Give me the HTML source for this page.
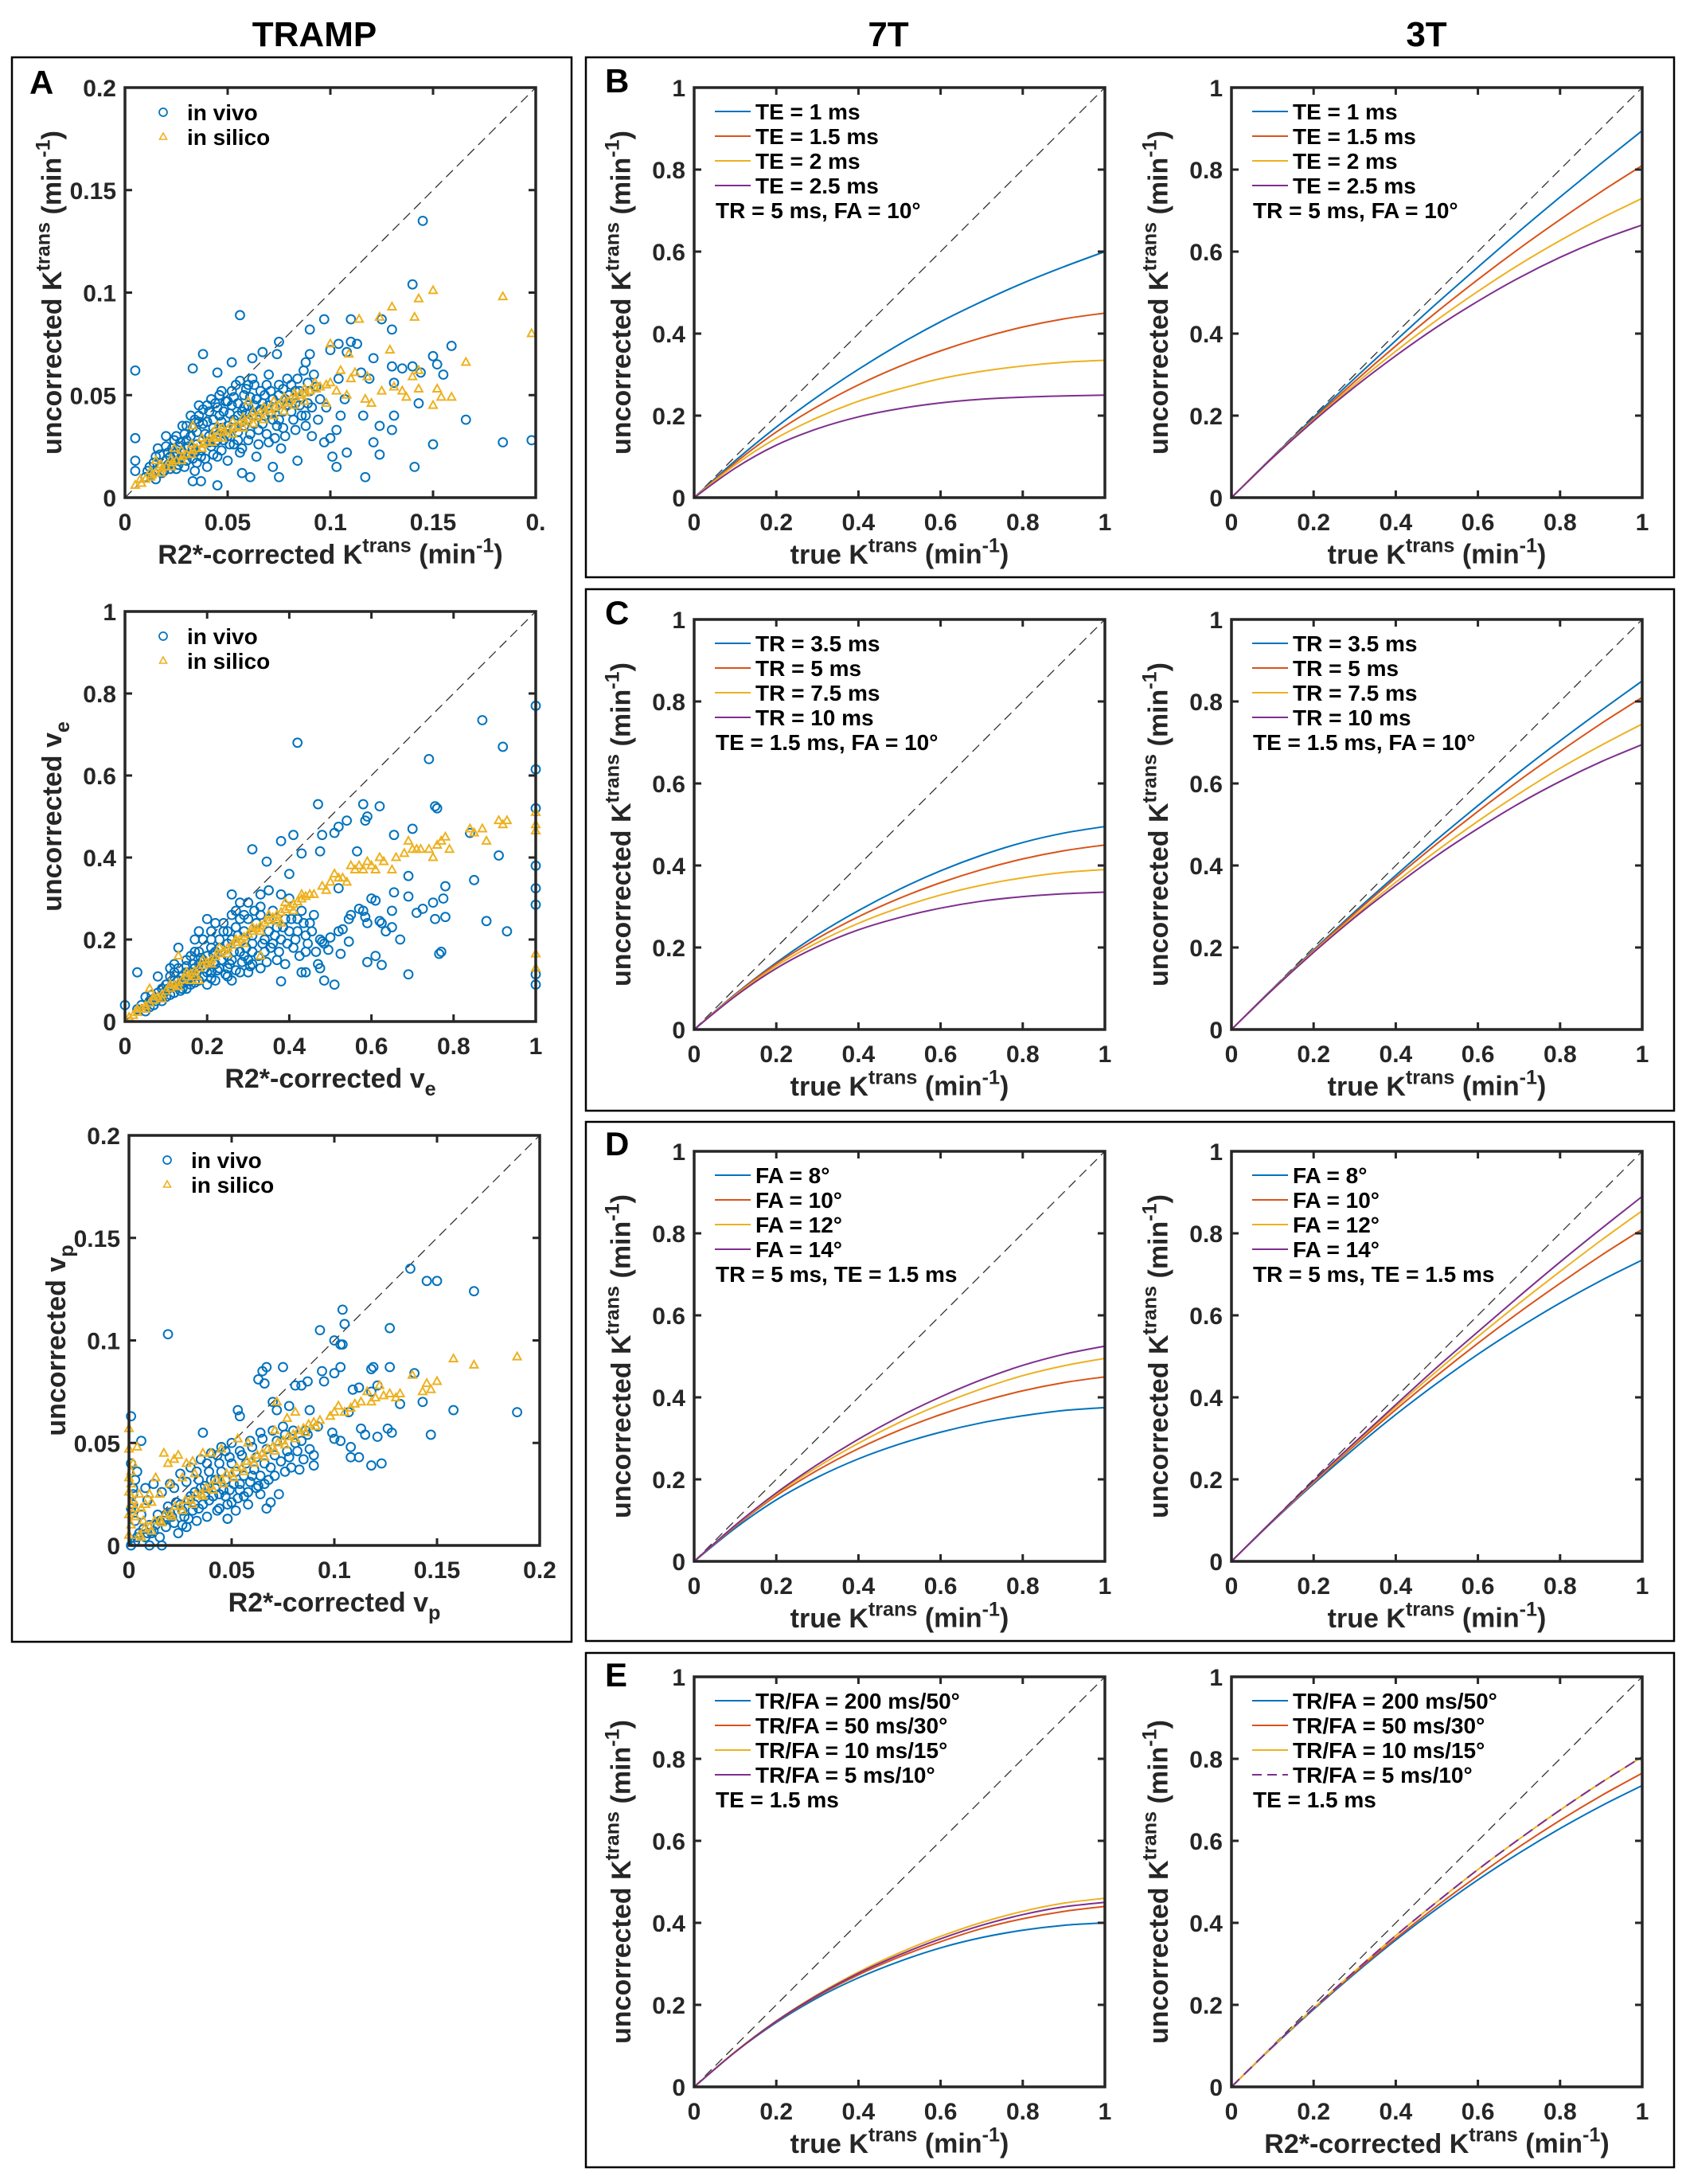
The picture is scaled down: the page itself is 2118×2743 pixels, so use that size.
<!DOCTYPE html>
<html><head><meta charset="utf-8">
<style>
html,body{margin:0;padding:0;background:#fff;}
svg text{font-family:"Liberation Sans",Arial,sans-serif;font-weight:bold;}
</style></head>
<body>
<svg id="fig" xmlns="http://www.w3.org/2000/svg" width="2118" height="2738" viewBox="0 0 2118 2738">
<rect x="0" y="0" width="2118" height="2738" fill="#fff"/>
<text x="395" y="58" font-size="44" text-anchor="middle" fill="#000">TRAMP</text>
<text x="1116" y="58" font-size="44" text-anchor="middle" fill="#000">7T</text>
<text x="1792" y="58" font-size="44" text-anchor="middle" fill="#000">3T</text>
<rect x="15" y="72" width="703" height="1990" fill="none" stroke="#000" stroke-width="2.5"/>
<rect x="736" y="72" width="1367" height="653" fill="none" stroke="#000" stroke-width="2.5"/>
<rect x="736" y="740" width="1367" height="655" fill="none" stroke="#000" stroke-width="2.5"/>
<rect x="736" y="1409" width="1367" height="652" fill="none" stroke="#000" stroke-width="2.5"/>
<rect x="736" y="2076" width="1367" height="646" fill="none" stroke="#000" stroke-width="2.5"/>
<text x="37" y="118" font-size="42" fill="#000">A</text>
<text x="760" y="116" font-size="42" fill="#000">B</text>
<text x="760" y="784" font-size="42" fill="#000">C</text>
<text x="760" y="1451" font-size="42" fill="#000">D</text>
<text x="760" y="2118" font-size="42" fill="#000">E</text>
</svg>
<script>
// ---------- line chart data (x samples shared) ----------
const xs = [0,0.1,0.2,0.3,0.4,0.5,0.6,0.7,0.8,0.9,1.0];
const b7_te1   = [0,0.09,0.172,0.246,0.313,0.374,0.429,0.478,0.523,0.563,0.60];
const b7_te15  = [0,0.085,0.16,0.222,0.275,0.32,0.358,0.39,0.416,0.436,0.45];
const b7_te2   = [0,0.08,0.145,0.195,0.235,0.265,0.29,0.308,0.321,0.33,0.335];
const b7_te25  = [0,0.072,0.128,0.168,0.197,0.217,0.231,0.24,0.245,0.248,0.25];
const b3_te1   = [0,0.099,0.196,0.291,0.383,0.474,0.562,0.649,0.733,0.815,0.895];
const b3_te15  = [0,0.098,0.192,0.283,0.37,0.453,0.532,0.607,0.678,0.746,0.81];
const b3_te2   = [0,0.097,0.189,0.276,0.357,0.433,0.503,0.568,0.627,0.681,0.73];
const b3_te25  = [0,0.097,0.187,0.27,0.346,0.416,0.479,0.536,0.586,0.629,0.665];
const c7_tr35  = [0,0.086,0.163,0.231,0.29,0.342,0.387,0.425,0.456,0.479,0.495];
const c7_tr5   = [0,0.085,0.16,0.222,0.275,0.32,0.358,0.39,0.416,0.436,0.45];
const c7_tr75  = [0,0.083,0.155,0.212,0.259,0.297,0.328,0.352,0.37,0.383,0.39];
const c7_tr10  = [0,0.081,0.149,0.202,0.243,0.273,0.296,0.313,0.324,0.331,0.335];
const c3_tr35  = [0,0.099,0.194,0.287,0.376,0.463,0.546,0.627,0.704,0.778,0.85];
const c3_tr5   = [0,0.098,0.192,0.283,0.37,0.453,0.532,0.607,0.678,0.746,0.81];
const c3_tr75  = [0,0.097,0.19,0.277,0.359,0.436,0.508,0.575,0.637,0.693,0.745];
const c3_tr10  = [0,0.097,0.188,0.273,0.351,0.424,0.49,0.551,0.605,0.653,0.695];
const d7_fa8   = [0,0.081,0.15,0.205,0.25,0.286,0.315,0.338,0.355,0.368,0.375];
const d7_fa10  = [0,0.085,0.16,0.222,0.275,0.32,0.358,0.39,0.416,0.436,0.45];
const d7_fa12  = [0,0.087,0.164,0.23,0.288,0.339,0.383,0.421,0.453,0.477,0.495];
const d7_fa14  = [0,0.088,0.167,0.236,0.298,0.353,0.401,0.443,0.478,0.505,0.525];
const d3_fa8   = [0,0.097,0.189,0.276,0.358,0.434,0.505,0.57,0.63,0.685,0.735];
const d3_fa10  = [0,0.098,0.192,0.283,0.37,0.453,0.532,0.607,0.678,0.746,0.81];
const d3_fa12  = [0,0.099,0.194,0.287,0.377,0.464,0.548,0.629,0.707,0.783,0.855];
const d3_fa14  = [0,0.099,0.196,0.29,0.382,0.473,0.56,0.646,0.73,0.811,0.89];
const e7_200   = [0,0.085,0.157,0.217,0.266,0.306,0.339,0.364,0.382,0.394,0.40];
const e7_50    = [0,0.085,0.159,0.221,0.273,0.317,0.354,0.386,0.41,0.428,0.44];
const e7_10    = [0,0.086,0.161,0.225,0.28,0.327,0.367,0.401,0.428,0.448,0.46];
const e7_5     = [0,0.085,0.16,0.223,0.277,0.322,0.361,0.394,0.42,0.439,0.45];
const e3_200   = [0,0.097,0.189,0.276,0.358,0.434,0.505,0.57,0.63,0.685,0.735];
const e3_50    = [0,0.098,0.191,0.279,0.362,0.441,0.515,0.585,0.65,0.71,0.765];
const e3_10    = [0,0.098,0.192,0.282,0.369,0.451,0.53,0.604,0.675,0.742,0.805];
const e3_5     = [0,0.098,0.192,0.282,0.369,0.451,0.53,0.604,0.675,0.742,0.805];
const unitTicks = [0,0.2,0.4,0.6,0.8,1];
const unitTickLabels = ["0","0.2","0.4","0.6","0.8","1"];
const smallTicks = [0,0.05,0.1,0.15,0.2];
const a1XTickLabels = ["0","0.05","0.1","0.15","0."];
const smallTickLabels = ["0","0.05","0.1","0.15","0.2"];
const teLabels = ["TE = 1 ms","TE = 1.5 ms","TE = 2 ms","TE = 2.5 ms"];
const trLabels = ["TR = 3.5 ms","TR = 5 ms","TR = 7.5 ms","TR = 10 ms"];
const faLabels = ["FA = 8°","FA = 10°","FA = 12°","FA = 14°"];
const tfLabels = ["TR/FA = 200 ms/50°","TR/FA = 50 ms/30°","TR/FA = 10 ms/15°","TR/FA = 5 ms/10°"];

// ---------- scatter data ----------
const a1Vivo = [[0.056,0.089],[0.005,0.062],[0.14,0.104],[0.145,0.135],[0.097,0.087],[0.11,0.087],[0.125,0.087],[0.13,0.082],[0.09,0.082],[0.075,0.076],[0.159,0.074],[0.11,0.076],[0.113,0.075],[0.15,0.069],[0.152,0.065],[0.155,0.06],[0.144,0.061],[0.14,0.064],[0.135,0.063],[0.13,0.064],[0.121,0.068],[0.119,0.058],[0.131,0.056],[0.143,0.046],[0.131,0.040],[0.116,0.040],[0.124,0.035],[0.13,0.033],[0.166,0.038],[0.121,0.027],[0.124,0.021],[0.15,0.026],[0.184,0.027],[0.198,0.028],[0.141,0.015],[0.117,0.010],[0.103,0.015],[0.108,0.022],[0.101,0.020],[0.097,0.027],[0.1,0.029],[0.103,0.033],[0.091,0.030],[0.084,0.018],[0.075,0.010],[0.072,0.015],[0.076,0.024],[0.045,0.006],[0.033,0.008],[0.037,0.008],[0.061,0.010],[0.057,0.012],[0.005,0.029],[0.005,0.018],[0.005,0.013],[0.033,0.063],[0.038,0.070],[0.045,0.061],[0.052,0.066],[0.062,0.068],[0.067,0.071],[0.074,0.07],[0.088,0.066],[0.09,0.07],[0.1,0.072],[0.104,0.075],[0.108,0.071],[0.115,0.061],[0.104,0.058],[0.107,0.048],[0.105,0.040],[0.098,0.044],[0.094,0.038],[0.088,0.04],
[0.01,0.01],[0.012,0.015],[0.015,0.009],[0.015,0.02],[0.018,0.012],[0.02,0.018],[0.02,0.025],[0.022,0.014],[0.024,0.02],[0.025,0.03],[0.026,0.016],[0.028,0.022],[0.028,0.035],[0.03,0.018],[0.03,0.028],[0.032,0.04],[0.033,0.024],[0.034,0.013],[0.035,0.032],[0.036,0.045],[0.037,0.02],[0.038,0.028],[0.04,0.037],[0.04,0.015],[0.042,0.025],[0.042,0.048],[0.044,0.032],[0.045,0.02],[0.046,0.04],[0.047,0.052],[0.048,0.028],[0.05,0.035],[0.05,0.018],[0.052,0.045],[0.053,0.026],[0.054,0.055],[0.055,0.032],[0.056,0.022],[0.057,0.042],[0.058,0.05],[0.06,0.028],[0.06,0.038],[0.062,0.058],[0.063,0.045],[0.064,0.02],[0.065,0.033],[0.066,0.052],[0.068,0.04],[0.07,0.027],[0.07,0.06],[0.072,0.048],[0.074,0.035],[0.075,0.055],[0.077,0.042],[0.078,0.03],[0.08,0.05],[0.082,0.038],[0.084,0.058],[0.085,0.045],[0.087,0.062],[0.088,0.035],[0.09,0.052],[0.092,0.06],[0.095,0.048],[0.032,0.03],[0.038,0.036],[0.043,0.038],[0.048,0.042],[0.053,0.038],[0.058,0.035],[0.026,0.025],[0.022,0.02],[0.034,0.022],[0.044,0.027],[0.05,0.03],[0.062,0.04],[0.068,0.05],[0.072,0.038],[0.02,0.03],[0.016,0.024],[0.036,0.04],[0.04,0.045],[0.046,0.05],[0.052,0.052],[0.058,0.044],[0.064,0.048],[0.07,0.045],[0.03,0.035],[0.024,0.028],[0.041,0.03],[0.047,0.034],[0.055,0.04],[0.06,0.045],[0.066,0.043],[0.078,0.048],[0.083,0.052],
[0.011,0.013],[0.013,0.011],[0.014,0.017],[0.017,0.015],[0.017,0.021],[0.019,0.013],[0.021,0.016],[0.021,0.022],[0.023,0.024],[0.023,0.017],[0.025,0.014],[0.025,0.022],[0.027,0.019],[0.027,0.027],[0.029,0.015],[0.029,0.031],[0.031,0.021],[0.031,0.025],[0.033,0.019],[0.033,0.034],[0.035,0.017],[0.035,0.026],[0.036,0.037],[0.037,0.023],[0.039,0.031],[0.039,0.019],[0.041,0.027],[0.041,0.042],[0.043,0.021],[0.043,0.034],[0.045,0.028],[0.045,0.044],[0.047,0.023],[0.047,0.037],[0.049,0.031],[0.049,0.047],[0.051,0.026],[0.051,0.041],[0.053,0.034],[0.053,0.049],[0.055,0.028],[0.055,0.046],[0.057,0.037],[0.057,0.024],[0.059,0.041],[0.059,0.053],[0.061,0.031],[0.061,0.049],[0.063,0.036],[0.063,0.055],[0.065,0.042],[0.065,0.026],[0.067,0.046],[0.067,0.036],[0.069,0.055],[0.069,0.031],[0.071,0.041],[0.071,0.052],[0.073,0.044],[0.073,0.029],[0.075,0.038],[0.075,0.05],[0.077,0.053],[0.077,0.034],[0.079,0.045],[0.079,0.058],[0.081,0.042],[0.081,0.055],[0.083,0.046],[0.083,0.033],[0.085,0.052],[0.086,0.04],[0.089,0.056],[0.089,0.046],[0.091,0.044],[0.093,0.054],[0.038,0.043],[0.034,0.038],[0.044,0.046],[0.05,0.047],[0.056,0.057],[0.06,0.055]];
const a1Silico = [[0.005,0.006],[0.01,0.009],[0.015,0.012],[0.02,0.015],[0.025,0.018],[0.03,0.021],[0.035,0.024],[0.04,0.027],[0.045,0.03],[0.05,0.033],[0.055,0.035],[0.06,0.038],[0.065,0.04],[0.07,0.043],[0.075,0.045],[0.08,0.047],[0.085,0.05],[0.09,0.052],[0.095,0.054],[0.1,0.056],
[0.0075,0.009],[0.0125,0.013],[0.0175,0.016],[0.0225,0.019],[0.0275,0.023],[0.0325,0.026],[0.0375,0.029],[0.0425,0.031],[0.0475,0.034],[0.0525,0.037],[0.0575,0.039],[0.0625,0.042],[0.0675,0.044],[0.0725,0.047],[0.0775,0.049],[0.0825,0.051],[0.0875,0.053],[0.0925,0.056],
[0.0125,0.010],[0.0175,0.012],[0.0225,0.015],[0.0275,0.018],[0.0325,0.021],[0.0375,0.024],[0.0425,0.027],[0.0475,0.029],[0.0525,0.031],[0.0575,0.034],[0.0625,0.036],[0.0675,0.038],[0.0725,0.040],[0.0775,0.042],[0.0825,0.045],[0.0875,0.047],
[0.008,0.007],[0.013,0.011],[0.018,0.014],[0.023,0.017],[0.028,0.02],[0.033,0.023],[0.038,0.026],[0.043,0.029],[0.048,0.032],[0.053,0.034],[0.058,0.037],[0.063,0.039],[0.068,0.042],[0.073,0.044],[0.078,0.046],[0.083,0.049],[0.088,0.051],[0.093,0.053],[0.098,0.055],
[0.15,0.101],[0.143,0.097],[0.13,0.093],[0.141,0.088],[0.184,0.098],[0.198,0.08],[0.124,0.088],[0.114,0.087],[0.166,0.066],[0.143,0.062],[0.14,0.059],[0.152,0.053],[0.159,0.049],[0.154,0.049],[0.15,0.045],[0.143,0.053],[0.135,0.052],[0.125,0.052],[0.118,0.059],[0.112,0.061],[0.109,0.07],[0.1,0.075],[0.129,0.072],[0.131,0.054],[0.137,0.049],[0.12,0.046],[0.117,0.048],[0.108,0.05],[0.103,0.052],[0.098,0.046],[0.105,0.062],[0.11,0.058],[0.033,0.035],[0.045,0.035],[0.06,0.047],[0.024,0.024],[0.015,0.018]];
const a2Vivo = [[0.42,0.68],[0.87,0.735],[0.92,0.67],[0.74,0.64],[1.0,0.77],[1.0,0.615],[1.0,0.52],[1.0,0.38],[1.0,0.325],[1.0,0.285],[1.0,0.115],[1.0,0.09],[0.47,0.53],[0.58,0.53],[0.62,0.525],[0.755,0.525],[0.76,0.52],[0.54,0.49],[0.59,0.5],[0.585,0.49],[0.52,0.475],[0.51,0.46],[0.48,0.455],[0.41,0.455],[0.655,0.455],[0.84,0.46],[0.7,0.47],[0.91,0.405],[0.38,0.44],[0.31,0.42],[0.565,0.415],[0.475,0.415],[0.43,0.41],[0.345,0.39],[0.69,0.355],[0.85,0.345],[0.78,0.33],[0.52,0.325],[0.6,0.3],[0.61,0.295],[0.655,0.315],[0.69,0.305],[0.75,0.29],[0.775,0.3],[0.71,0.265],[0.725,0.275],[0.65,0.27],[0.57,0.275],[0.58,0.27],[0.585,0.255],[0.59,0.24],[0.545,0.25],[0.55,0.26],[0.78,0.255],[0.755,0.25],[0.88,0.245],[0.93,0.22],[0.62,0.245],[0.625,0.24],[0.635,0.22],[0.65,0.23],[0.52,0.22],[0.53,0.225],[0.545,0.195],[0.5,0.205],[0.48,0.195],[0.485,0.19],[0.495,0.175],[0.525,0.165],[0.67,0.2],[0.77,0.17],[0.765,0.165],[0.59,0.145],[0.61,0.16],[0.625,0.138],[0.69,0.115],[0.47,0.14],[0.475,0.13],[0.485,0.1],[0.51,0.09],[0.43,0.12],[0.44,0.12],[0.38,0.098],[0.0,0.04],
[0.03,0.03],[0.05,0.025],[0.05,0.06],[0.07,0.04],[0.08,0.07],[0.09,0.05],[0.1,0.09],[0.1,0.06],[0.11,0.11],[0.12,0.07],[0.12,0.1],[0.13,0.13],[0.14,0.08],[0.14,0.11],[0.15,0.15],[0.16,0.09],[0.16,0.12],[0.17,0.17],[0.18,0.1],[0.18,0.14],[0.19,0.2],[0.2,0.12],[0.2,0.16],[0.21,0.22],[0.22,0.1],[0.22,0.14],[0.23,0.18],[0.24,0.24],[0.25,0.13],[0.25,0.16],[0.26,0.2],[0.27,0.27],[0.28,0.12],[0.28,0.17],[0.29,0.22],[0.3,0.29],[0.3,0.15],[0.31,0.19],[0.32,0.24],[0.33,0.31],[0.33,0.13],[0.34,0.17],[0.35,0.22],[0.36,0.27],[0.37,0.15],[0.38,0.2],[0.39,0.25],[0.4,0.3],[0.41,0.18],[0.42,0.22],[0.43,0.27],[0.44,0.17],[0.45,0.24],[0.46,0.26],[0.24,0.22],[0.21,0.18],[0.27,0.23],[0.18,0.17],[0.15,0.12],[0.12,0.12],[0.09,0.08],[0.06,0.05],[0.35,0.32],[0.3,0.25],[0.4,0.36],[0.26,0.31],[0.2,0.25],[0.18,0.22],[0.13,0.18],[0.08,0.11],[0.03,0.12],[0.19,0.15],[0.23,0.13],[0.29,0.16],[0.34,0.2],[0.26,0.1],[0.3,0.12],[0.17,0.13],[0.22,0.17],[0.26,0.15],[0.31,0.17],[0.36,0.19],[0.4,0.22],[0.14,0.1],[0.1,0.075],[0.07,0.055],[0.16,0.1],[0.21,0.12],[0.25,0.19],[0.32,0.24],[0.28,0.25],[0.33,0.26],[0.37,0.23],[0.42,0.25],[0.44,0.21],
[0.04,0.04],[0.06,0.035],[0.065,0.065],[0.075,0.05],[0.085,0.06],[0.095,0.07],[0.105,0.08],[0.11,0.065],[0.115,0.09],[0.125,0.085],[0.13,0.1],[0.135,0.075],[0.145,0.095],[0.15,0.135],[0.155,0.105],[0.165,0.14],[0.17,0.095],[0.175,0.12],[0.185,0.155],[0.19,0.11],[0.195,0.13],[0.205,0.14],[0.21,0.105],[0.215,0.165],[0.225,0.125],[0.23,0.2],[0.235,0.15],[0.245,0.115],[0.25,0.22],[0.255,0.14],[0.265,0.17],[0.27,0.125],[0.275,0.21],[0.285,0.145],[0.29,0.26],[0.295,0.18],[0.305,0.135],[0.31,0.21],[0.315,0.27],[0.325,0.16],[0.335,0.19],[0.345,0.145],[0.35,0.25],[0.355,0.18],[0.365,0.21],[0.375,0.17],[0.385,0.23],[0.39,0.14],[0.395,0.19],[0.405,0.25],[0.415,0.2],[0.425,0.16],[0.435,0.24],[0.445,0.19],[0.455,0.22],[0.465,0.17],[0.475,0.2],[0.12,0.14],[0.17,0.2],[0.22,0.24],[0.28,0.29],[0.33,0.28],[0.38,0.31],[0.26,0.26],[0.21,0.2],[0.16,0.16],[0.11,0.13],[0.15,0.08],[0.2,0.09],[0.25,0.11],[0.31,0.14]];
const a2Silico = [[0.02,0.015],[0.04,0.03],[0.06,0.045],[0.08,0.06],[0.1,0.074],[0.12,0.088],[0.14,0.102],[0.16,0.116],[0.18,0.13],[0.2,0.144],[0.22,0.158],[0.24,0.172],[0.26,0.186],[0.28,0.2],[0.3,0.213],[0.32,0.226],[0.34,0.24],[0.36,0.253],[0.38,0.266],[0.4,0.279],[0.42,0.292],[0.44,0.305],[0.46,0.31],
[0.03,0.03],[0.07,0.06],[0.11,0.09],[0.15,0.12],[0.19,0.15],[0.23,0.18],[0.27,0.2],[0.31,0.23],[0.35,0.26],[0.39,0.29],[0.43,0.31],[0.05,0.03],[0.09,0.055],[0.13,0.085],[0.17,0.11],[0.21,0.14],[0.25,0.165],[0.29,0.19],[0.33,0.22],[0.37,0.245],[0.41,0.27],
[0.01,0.01],[0.03,0.022],[0.05,0.038],[0.07,0.052],[0.09,0.066],[0.11,0.081],[0.13,0.095],[0.15,0.109],[0.17,0.123],[0.19,0.137],[0.21,0.151],[0.23,0.165],[0.25,0.179],[0.27,0.193],[0.29,0.206],[0.31,0.22],[0.33,0.233],[0.35,0.246],[0.37,0.26],[0.39,0.273],[0.41,0.286],[0.43,0.299],[0.45,0.31],
[0.48,0.33],[0.49,0.32],[0.5,0.34],[0.51,0.36],[0.52,0.35],[0.53,0.35],[0.54,0.34],[0.55,0.38],[0.56,0.37],[0.57,0.38],[0.58,0.37],[0.59,0.39],[0.6,0.38],[0.61,0.37],[0.62,0.4],[0.63,0.39],[0.65,0.37],[0.66,0.4],[0.68,0.41],[0.69,0.44],[0.7,0.42],[0.71,0.42],[0.72,0.42],[0.74,0.42],[0.75,0.4],[0.76,0.43],[0.77,0.44],[0.78,0.45],[0.79,0.42],[0.84,0.47],[0.85,0.46],[0.87,0.47],[0.88,0.44],[0.91,0.49],[0.92,0.48],[0.93,0.49],[1,0.51],[1,0.48],[1,0.465],[1,0.165],[1,0.13],[0.13,0.16],[0.06,0.08],[0.16,0.1],[0.18,0.1],[0.33,0.16],[0.38,0.24]];
const a3Vivo = [[0.019,0.103],[0.137,0.135],[0.145,0.129],[0.15,0.129],[0.168,0.124],[0.104,0.115],[0.105,0.108],[0.093,0.105],[0.127,0.106],[0.1,0.1],[0.103,0.098],[0.104,0.098],[0.065,0.085],[0.067,0.087],[0.075,0.087],[0.063,0.081],[0.066,0.079],[0.094,0.085],[0.1,0.084],[0.103,0.087],[0.118,0.086],[0.119,0.087],[0.127,0.087],[0.139,0.084],[0.084,0.078],[0.087,0.08],[0.081,0.078],[0.095,0.08],[0.109,0.076],[0.112,0.077],[0.118,0.075],[0.121,0.078],[0.143,0.07],[0.132,0.069],[0.158,0.066],[0.189,0.065],[0.053,0.066],[0.054,0.063],[0.001,0.063],[0.006,0.051],[0.107,0.065],[0.113,0.057],[0.126,0.057],[0.128,0.055],[0.147,0.054],[0.115,0.054],[0.121,0.053],[0.099,0.055],[0.1,0.052],[0.103,0.051],[0.108,0.048],[0.108,0.043],[0.112,0.043],[0.118,0.039],[0.123,0.04],[0.036,0.055],[0.067,0.018],[0.048,0.013],[0.083,0.037],[0.09,0.039],[0.09,0.044],[0.07,0.07],[0.072,0.066],[0.078,0.068],[0.088,0.066],[0.092,0.058],[0.086,0.056],
[0.003,0.002],[0.005,0.006],[0.008,0.004],[0.01,0.01],[0.012,0.007],[0.015,0.012],[0.015,0.004],[0.018,0.009],[0.02,0.016],[0.022,0.011],[0.024,0.006],[0.025,0.02],[0.027,0.014],[0.028,0.009],[0.03,0.024],[0.031,0.017],[0.033,0.012],[0.035,0.028],[0.036,0.02],[0.038,0.014],[0.04,0.032],[0.041,0.024],[0.043,0.017],[0.045,0.036],[0.046,0.027],[0.048,0.02],[0.05,0.04],[0.051,0.03],[0.053,0.023],[0.055,0.044],[0.056,0.034],[0.058,0.026],[0.06,0.048],[0.061,0.037],[0.063,0.029],[0.065,0.052],[0.066,0.04],[0.068,0.032],[0.07,0.056],[0.071,0.044],[0.073,0.025],[0.075,0.058],[0.077,0.046],[0.079,0.038],[0.081,0.05],[0.085,0.042],[0.088,0.047],[0.002,0.025],[0.002,0.02],[0.001,0.04],[0.003,0.032],[0.008,0.028],[0.012,0.03],[0.02,0.03],[0.025,0.035],[0.03,0.038],[0.035,0.042],[0.04,0.045],[0.045,0.048],[0.05,0.05],[0.016,0.0],[0.01,0.0],[0.001,0.0],[0.048,0.013],[0.064,0.025],[0.069,0.021],[0.058,0.02],[0.052,0.017],[0.026,0.01],[0.032,0.02],[0.042,0.028],[0.047,0.024],[0.054,0.03],[0.06,0.034],[0.037,0.024],[0.018,0.014],[0.011,0.006],
[0.004,0.004],[0.007,0.008],[0.009,0.006],[0.013,0.01],[0.014,0.015],[0.017,0.012],[0.019,0.019],[0.021,0.014],[0.023,0.021],[0.026,0.017],[0.029,0.022],[0.029,0.013],[0.032,0.026],[0.034,0.018],[0.034,0.032],[0.037,0.029],[0.039,0.022],[0.039,0.036],[0.042,0.032],[0.044,0.025],[0.044,0.04],[0.047,0.032],[0.049,0.027],[0.049,0.043],[0.052,0.036],[0.054,0.027],[0.054,0.046],[0.057,0.04],[0.059,0.031],[0.059,0.051],[0.062,0.043],[0.064,0.034],[0.064,0.055],[0.067,0.047],[0.069,0.038],[0.072,0.051],[0.074,0.041],[0.076,0.054],[0.078,0.043],[0.08,0.056],[0.082,0.046],[0.084,0.051],[0.087,0.054],[0.003,0.012],[0.001,0.018],[0.002,0.028],[0.004,0.036],[0.006,0.015],[0.009,0.022],[0.016,0.026],[0.022,0.028],[0.028,0.031],[0.033,0.036],[0.038,0.04],[0.043,0.044],[0.047,0.046],[0.044,0.018],[0.05,0.021],[0.056,0.024],[0.062,0.028],[0.066,0.03],[0.071,0.034],[0.076,0.036]];
const a3Silico = [[0.005,0.005],[0.01,0.009],[0.015,0.012],[0.02,0.015],[0.025,0.019],[0.03,0.022],[0.035,0.025],[0.04,0.029],[0.045,0.032],[0.05,0.035],[0.055,0.038],[0.06,0.042],[0.065,0.045],[0.07,0.048],[0.075,0.051],[0.08,0.054],[0.085,0.057],[0.09,0.06],[0.093,0.061],
[0.0075,0.008],[0.0125,0.012],[0.0175,0.015],[0.0225,0.019],[0.0275,0.022],[0.0325,0.025],[0.0375,0.028],[0.0425,0.032],[0.0475,0.035],[0.0525,0.038],[0.0575,0.041],[0.0625,0.044],[0.0675,0.047],[0.0725,0.05],[0.0775,0.053],[0.0825,0.056],[0.0875,0.059],
[0.006,0.004],[0.011,0.007],[0.016,0.011],[0.021,0.014],[0.026,0.017],[0.031,0.02],[0.036,0.024],[0.041,0.027],[0.046,0.03],[0.051,0.033],[0.056,0.036],[0.061,0.04],[0.066,0.043],[0.071,0.046],[0.076,0.049],[0.081,0.052],[0.086,0.055],[0.091,0.058],
[0,0.057],[0,0.047],[0.004,0.048],[0.001,0.036],[0.001,0.03],[0.002,0.022],[0,0.015],[0.001,0.01],[0.003,0.018],[0.005,0.025],[0.008,0.02],[0.01,0.025],[0.013,0.033],[0.017,0.045],[0.019,0.04],[0.022,0.042],[0.024,0.044],[0.028,0.04],[0.031,0.041],[0.036,0.045],[0.04,0.045],[0.045,0.047],[0.053,0.052],[0.058,0.05],[0.071,0.056],[0.072,0.07],[0.077,0.062],[0.081,0.065],[0.015,0.025],[0.02,0.03],[0.026,0.033],[0.032,0.035],[0.0,0.005],[0.001,0.02],[0,0.026],[0,0.033],[0.002,0.04],[0.003,0.014],[0.006,0.018],[0.011,0.021],[0.007,0.012],
[0.1,0.065],[0.102,0.068],[0.105,0.065],[0.108,0.067],[0.11,0.069],[0.113,0.07],[0.116,0.075],[0.118,0.07],[0.12,0.072],[0.122,0.078],[0.124,0.073],[0.127,0.074],[0.13,0.072],[0.132,0.074],[0.138,0.083],[0.145,0.079],[0.15,0.08],[0.158,0.091],[0.168,0.088],[0.189,0.092],[0.143,0.075],[0.147,0.076],[0.098,0.063]];

const NS = "http://www.w3.org/2000/svg";
const svg = document.getElementById('fig');
function mk(tag, attrs, parent){
  const e = document.createElementNS(NS, tag);
  for (const k in attrs) e.setAttribute(k, attrs[k]);
  (parent||svg).appendChild(e);
  return e;
}
const C = {blue:'#0072BD', red:'#D95319', yellow:'#EDB120', purple:'#7E2F8E'};
const AX = '#262626';

function makeAxes(name, x0, y0, w, h, xmin, xmax, ymin, ymax){
  const g = mk('g', {});
  
  
  return {g, x0, y0, w, h,
    sx: v => x0 + (v - xmin) / (xmax - xmin) * w,
    sy: v => y0 + h - (v - ymin) / (ymax - ymin) * h};
}
function drawFrame(ax, xticks, xtl, yticks, ytl){
  const g = ax.g;
  xticks.forEach((t, i) => {
    const x = ax.sx(t);
    const tk = mk('line', {x1:x, x2:x, y1:ax.y0+ax.h, y2:ax.y0+ax.h-9, stroke:AX, 'stroke-width':3}, g);
    
    
    mk('line', {x1:x, x2:x, y1:ax.y0, y2:ax.y0+9, stroke:AX, 'stroke-width':3}, g);
    const lb = mk('text', {x:x, y:ax.y0+ax.h+41, 'font-size':30, 'text-anchor':'middle', fill:AX}, g);
    lb.textContent = xtl[i];
    
    
  });
  yticks.forEach((t, i) => {
    const y = ax.sy(t);
    const tk = mk('line', {x1:ax.x0, x2:ax.x0+9, y1:y, y2:y, stroke:AX, 'stroke-width':3}, g);
    
    
    mk('line', {x1:ax.x0+ax.w, x2:ax.x0+ax.w-9, y1:y, y2:y, stroke:AX, 'stroke-width':3}, g);
    const lb = mk('text', {x:ax.x0-11, y:y+11, 'font-size':30, 'text-anchor':'end', fill:AX}, g);
    lb.textContent = ytl[i];
    
    
  });
  const fr = mk('rect', {x:ax.x0, y:ax.y0, width:ax.w, height:ax.h, fill:'none', stroke:AX, 'stroke-width':3.5}, g);
  
  
}
function identity(ax, lo, hi){
  const l = mk('line', {x1:ax.sx(lo), y1:ax.sy(lo), x2:ax.sx(hi), y2:ax.sy(hi), stroke:'#333', 'stroke-width':1.3, 'stroke-dasharray':'12,7'}, ax.g);
  
  
}
function richText(parent, x, y, parts, size, anchor, rotate){
  const t = mk('text', {x:x, y:y, 'font-size':size, 'text-anchor':anchor, fill:AX}, parent);
  if (rotate) t.setAttribute('transform', `rotate(-90 ${x} ${y})`);
  parts.forEach(p => {
    const ts = mk('tspan', {}, t);
    if (p[1] === 'sup') { ts.setAttribute('font-size', size*0.74); ts.setAttribute('dy', -size*0.42); }
    if (p[1] === 'sub') { ts.setAttribute('font-size', size*0.74); ts.setAttribute('dy', size*0.3); }
    if (p[2]) ts.setAttribute('dy', p[2]);
    ts.textContent = p[0];
  });
  return t;
}
const ktransLabel = (pre) => [[pre+' K','n'],['trans','sup'],[' (min','n',14],['-1','sup'],[')','n',14]];
function xLabel(ax, parts){
  const t = richText(ax.g, ax.x0+ax.w/2, ax.y0+ax.h+83, parts, 34, 'middle', false);
  
  
}
function yLabel(ax, parts){
  const x = ax.x0-80, y = ax.y0+ax.h/2;
  const t = richText(ax.g, x, y, parts, 34, 'middle', true);
  
  
}
function smoothPath(ax, xv, yv){
  const p = xv.map((x, i) => [ax.sx(x), ax.sy(yv[i])]);
  let d = `M${p[0][0]},${p[0][1]}`;
  for (let i = 0; i < p.length-1; i++){
    const p0 = p[Math.max(0,i-1)], p1 = p[i], p2 = p[i+1], p3 = p[Math.min(p.length-1,i+2)];
    const c1 = [p1[0]+(p2[0]-p0[0])/6, p1[1]+(p2[1]-p0[1])/6];
    const c2 = [p2[0]-(p3[0]-p1[0])/6, p2[1]-(p3[1]-p1[1])/6];
    d += ` C${c1[0]},${c1[1]} ${c2[0]},${c2[1]} ${p2[0]},${p2[1]}`;
  }
  return d;
}
function lineSeries(ax, yv, color, name, dashed){
  const path = mk('path', {d:smoothPath(ax, xs, yv), fill:'none', stroke:color, 'stroke-width':2}, ax.g);
  if (dashed) path.setAttribute('stroke-dasharray', '14,8');
  
  
}
function lineLegend(ax, labels, colors, note, dashLast){
  const lg = mk('g', {}, ax.g);
  
  
  labels.forEach((lab, i) => {
    const y = ax.y0 + 30 + i*31;
    const sw = mk('line', {x1:ax.x0+26, x2:ax.x0+71, y1:y, y2:y, stroke:colors[i], 'stroke-width':2}, lg);
    if (dashLast && i === labels.length-1) sw.setAttribute('stroke-dasharray', '12,7');
    
    
    const t = mk('text', {x:ax.x0+77, y:y+10, 'font-size':28, fill:'#000'}, lg);
    t.textContent = lab;
    
    
  });
  const n = mk('text', {x:ax.x0+27, y:ax.y0+30+labels.length*31+10, 'font-size':28, fill:'#000'}, lg);
  n.textContent = note;
  
  
}
function linePanel(name, x0, y0, series, labels, note, xParts, dashLast){
  const ax = makeAxes(name, x0, y0, 516, 515, 0, 1, 0, 1);
  identity(ax, 0, 1);
  const cols = [C.blue, C.red, C.yellow, C.purple];
  series.forEach((s, i) => lineSeries(ax, s, cols[i], 'curve-'+labels[i].replace(/[^a-z0-9]+/gi,'-').toLowerCase(), dashLast && i === 3));
  drawFrame(ax, unitTicks, unitTickLabels, unitTicks, unitTickLabels);
  lineLegend(ax, labels, cols, note, dashLast);
  xLabel(ax, xParts);
  yLabel(ax, ktransLabel('uncorrected'));
}
const trueK = ktransLabel('true');
const r2K = ktransLabel('R2*-corrected');
const X7 = 872, X3 = 1547;
linePanel('chart-b-7t', X7, 110, [b7_te1,b7_te15,b7_te2,b7_te25], teLabels, 'TR = 5 ms, FA = 10°', trueK);
linePanel('chart-b-3t', X3, 110, [b3_te1,b3_te15,b3_te2,b3_te25], teLabels, 'TR = 5 ms, FA = 10°', trueK);
linePanel('chart-c-7t', X7, 778, [c7_tr35,c7_tr5,c7_tr75,c7_tr10], trLabels, 'TE = 1.5 ms, FA = 10°', trueK);
linePanel('chart-c-3t', X3, 778, [c3_tr35,c3_tr5,c3_tr75,c3_tr10], trLabels, 'TE = 1.5 ms, FA = 10°', trueK);
linePanel('chart-d-7t', X7, 1446, [d7_fa8,d7_fa10,d7_fa12,d7_fa14], faLabels, 'TR = 5 ms, TE = 1.5 ms', trueK);
linePanel('chart-d-3t', X3, 1446, [d3_fa8,d3_fa10,d3_fa12,d3_fa14], faLabels, 'TR = 5 ms, TE = 1.5 ms', trueK);
linePanel('chart-e-7t', X7, 2106, [e7_200,e7_50,e7_10,e7_5], tfLabels, 'TE = 1.5 ms', trueK, false);
linePanel('chart-e-3t', X3, 2106, [e3_200,e3_50,e3_10,e3_5], tfLabels, 'TE = 1.5 ms', r2K, true);

// ---------- scatter panels ----------
function circle(ax, p, g){
  const c = mk('circle', {cx:ax.sx(p[0]), cy:ax.sy(p[1]), r:5.4, fill:'none', stroke:C.blue, 'stroke-width':2}, g);
  
  
}
function tri(ax, p, g){
  const x = ax.sx(p[0]), y = ax.sy(p[1]);
  const t = mk('polygon', {points:`${x},${y-5.5} ${x-5},${y+3.5} ${x+5},${y+3.5}`, fill:'none', stroke:C.yellow, 'stroke-width':2}, g);
  
  
}
function scatterPanel(name, x0, y0, max, vivo, silico, ticks, xtl, ytl, xParts, yParts){
  const ax = makeAxes(name, x0, y0, 516, 515, 0, max, 0, max);
  identity(ax, 0, max);
  const gv = mk('g', {}, ax.g);
  
  
  vivo.forEach(p => circle(ax, p, gv));
  const gs = mk('g', {}, ax.g);
  
  
  silico.forEach(p => tri(ax, p, gs));
  drawFrame(ax, ticks, xtl, ticks, ytl);
  const lg = mk('g', {}, ax.g);
  
  
  const lx = x0+48, ly = y0+31;
  const c = mk('circle', {cx:lx, cy:ly, r:5, fill:'none', stroke:C.blue, 'stroke-width':1.7}, lg);
  
  
  const t1 = mk('text', {x:x0+78, y:ly+10, 'font-size':28, fill:'#000'}, lg);
  t1.textContent = 'in vivo';
  
  
  const ty = ly+31;
  const tr = mk('polygon', {points:`${lx},${ty-5} ${lx-4.5},${ty+3} ${lx+4.5},${ty+3}`, fill:'none', stroke:C.yellow, 'stroke-width':1.6}, lg);
  
  
  const t2 = mk('text', {x:x0+78, y:ty+10, 'font-size':28, fill:'#000'}, lg);
  t2.textContent = 'in silico';
  
  
  xLabel(ax, xParts);
  yLabel(ax, yParts);
}
scatterPanel('chart-a-ktrans', 157, 110, 0.2, a1Vivo, a1Silico, smallTicks, a1XTickLabels, smallTickLabels,
  r2K, ktransLabel('uncorrected'));
scatterPanel('chart-a-ve', 157, 768, 1, a2Vivo, a2Silico, unitTicks, unitTickLabels, unitTickLabels,
  [['R2*-corrected v','n'],['e','sub']], [['uncorrected v','n'],['e','sub']]);
scatterPanel('chart-a-vp', 162, 1426, 0.2, a3Vivo, a3Silico, smallTicks, smallTickLabels, smallTickLabels,
  [['R2*-corrected v','n'],['p','sub']], [['uncorrected v','n'],['p','sub']]);
</script>
</body></html>
